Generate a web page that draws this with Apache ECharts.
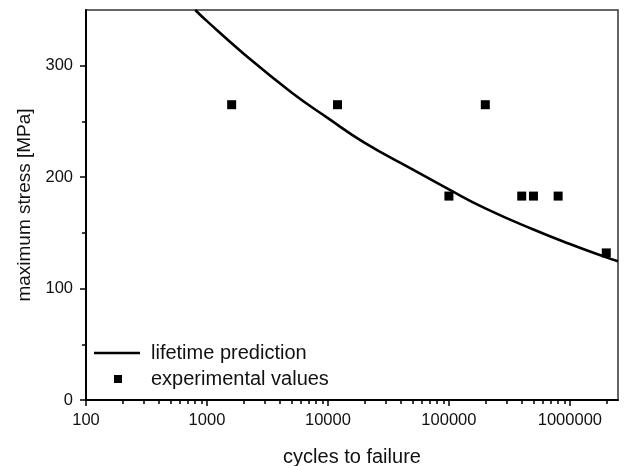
<!DOCTYPE html>
<html>
<head>
<meta charset="utf-8">
<script src="https://cdn.jsdelivr.net/npm/echarts@6/dist/echarts.min.js"></script>
<style>
  html, body { margin: 0; padding: 0; background: #fff; }
  #chart { width: 625px; height: 466px; }
</style>
</head>
<body>
<div id="chart"></div>
<script>
// lifetime prediction curve
const predCycles = [800, 1000, 2000, 5000, 10000, 20000, 50000, 100000, 200000, 500000, 1000000, 2000000, 2500000];
const predStress = [350, 340, 311, 276, 253, 231, 207, 189, 172, 153, 140, 128, 124.5];

// experimental values
const testCycles = [1600, 12000, 100000, 200000, 400000, 500000, 800000, 2000000];
const testStress = [265, 265, 183, 265, 183, 183, 183, 132];

const xMin = 100;
const xMax = 2500000;
const yMajor = [0, 100, 200, 300];
const yMinor = [50, 150, 250];
const xMinor = [];
[100, 1000, 10000, 100000, 1000000].forEach(d => {
  for (let k = 2; k <= 9; k++) if (d * k <= xMax) xMinor.push(d * k);
});

const font = "'Liberation Sans', Arial, sans-serif";
const ink = "#111";

const chart = echarts.init(document.getElementById("chart"), null, { renderer: "canvas" });

chart.setOption({
  backgroundColor: "#fff",
  animation: false,
  textStyle: { fontFamily: font, color: ink },
  grid: {
    left: 86, right: 7, top: 10, bottom: 66,
    outerBoundsMode: "none",
    containLabel: false,
    show: true, borderColor: "#333", borderWidth: 1.5
  },
  legend: [
    {
      data: [{
        name: "lifetime prediction",
        icon: "path://M0 0H46V2.6H0Z",
        itemStyle: { color: "#000", borderWidth: 0 }
      }],
      left: 89, top: 338,
      itemWidth: 46, itemHeight: 14,
      symbolKeepAspect: true,
      textStyle: { fontSize: 20, color: ink, fontFamily: font, padding: [0, 0, 0, 6] }
    },
    {
      data: [{
        name: "experimental values",
        icon: "path://M0 0H1V1H0Z",
        itemStyle: { color: "#000", borderWidth: 0, opacity: 1 }
      }],
      left: 109, top: 364,
      itemWidth: 56, itemHeight: 8,
      symbolKeepAspect: true,
      textStyle: { fontSize: 20, color: ink, fontFamily: font }
    }
  ],
  xAxis: [
    {
      type: "log", logBase: 10, min: xMin, max: xMax,
      name: "cycles to failure", nameLocation: "middle", nameGap: 47,
      nameTextStyle: { fontSize: 20, color: ink, fontFamily: font },
      axisLine: { lineStyle: { color: "#000", width: 2 } },
      axisTick: { inside: false, length: 6, lineStyle: { color: "#000", width: 1.5 } },
      axisLabel: {
        fontSize: 16.5, color: ink, margin: 12, showMaxLabel: false,
        formatter: v => String(Math.round(v))
      },
      splitLine: { show: false }
    },
    {
      // minor ticks, placed in log10 space
      type: "value", min: Math.log10(xMin), max: Math.log10(xMax),
      position: "bottom",
      axisLine: { show: false },
      axisLabel: { show: false },
      axisTick: {
        inside: false, length: 4,
        customValues: xMinor.map(v => Math.log10(v)),
        lineStyle: { color: "#000", width: 1.5 }
      },
      splitLine: { show: false }
    }
  ],
  yAxis: [
    {
      type: "value", min: 0, max: 350,
      name: "maximum stress [MPa]", nameLocation: "middle", nameGap: 50,
      nameTextStyle: { fontSize: 19, color: ink, fontFamily: font },
      axisLine: { show: true, lineStyle: { color: "#000", width: 2 } },
      axisTick: { show: true, inside: false, length: 6, customValues: yMajor, lineStyle: { color: "#000", width: 1.5 } },
      axisLabel: { fontSize: 16.5, color: ink, margin: 13, customValues: yMajor },
      splitLine: { show: false }
    },
    {
      type: "value", min: 0, max: 350, position: "left",
      axisLine: { show: false },
      axisLabel: { show: false },
      axisTick: { show: true, inside: false, length: 4, customValues: yMinor, lineStyle: { color: "#000", width: 1.5 } },
      splitLine: { show: false }
    }
  ],
  series: [
    {
      name: "lifetime prediction",
      type: "line",
      smooth: true,
      symbol: "none",
      showSymbol: false,
      data: predCycles.map((n, i) => [n, predStress[i]]),
      lineStyle: { color: "#000", width: 2.6 },
      itemStyle: { color: "#000" },
      z: 3
    },
    {
      name: "experimental values",
      type: "scatter",
      symbol: "rect",
      symbolSize: 9,
      data: testCycles.map((n, i) => [n, testStress[i]]),
      itemStyle: { color: "#000", opacity: 1 },
      z: 4
    }
  ]
});
</script>
</body>
</html>
